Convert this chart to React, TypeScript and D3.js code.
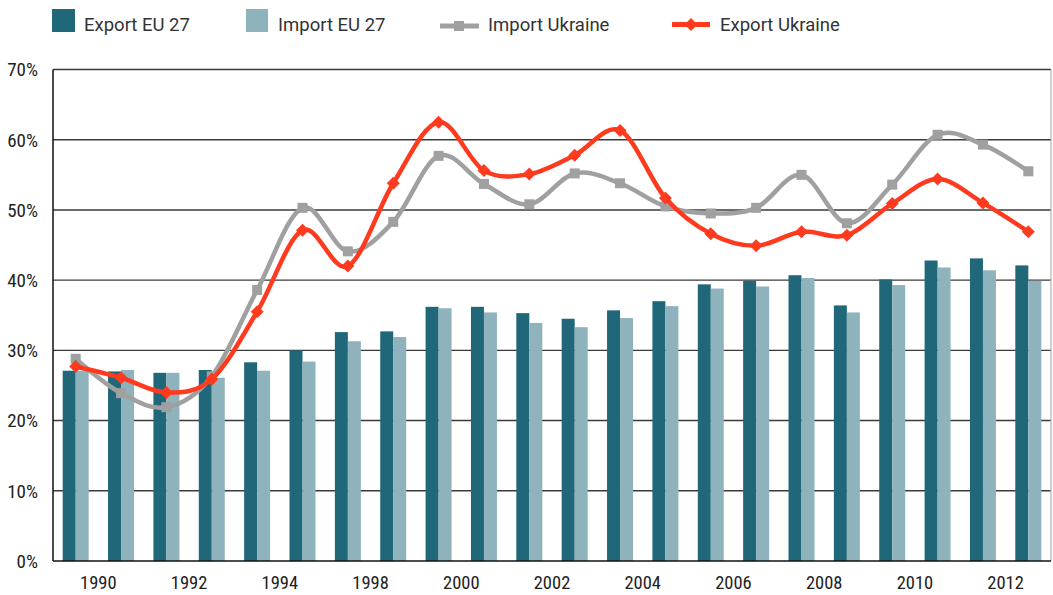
import React from "react";
import * as d3 from "d3";

const categories = d3.range(22);
const xLabels = ["1990", "1992", "1994", "1998", "2000", "2002", "2004", "2006", "2008", "2010", "2012"];
const exportEU = [27.1, 27.0, 26.8, 27.2, 28.3, 30.0, 32.6, 32.7, 36.2, 36.2, 35.3, 34.5, 35.7, 37.0, 39.4, 39.9, 40.7, 36.4, 40.1, 42.8, 43.1, 42.1];
const importEU = [27.1, 27.2, 26.8, 26.1, 27.1, 28.4, 31.3, 31.9, 36.0, 35.4, 33.9, 33.3, 34.6, 36.3, 38.8, 39.1, 40.3, 35.4, 39.3, 41.8, 41.4, 39.9];
const importUA = [28.8, 23.9, 21.9, 26.3, 38.6, 50.3, 44.1, 48.3, 57.7, 53.7, 50.8, 55.2, 53.8, 50.5, 49.5, 50.3, 55.0, 48.1, 53.6, 60.7, 59.3, 55.5];
const exportUA = [27.7, 26.1, 24.0, 25.9, 35.5, 47.1, 42.0, 53.8, 62.5, 55.6, 55.1, 57.8, 61.3, 51.7, 46.6, 44.9, 46.9, 46.4, 50.9, 54.4, 51.0, 46.9];
const yTicks = [0, 10, 20, 30, 40, 50, 60, 70];

const C_DARK = "#1f6779";
const C_LIGHT = "#8fb3bd";
const C_GRAY = "#a0a0a0";
const C_RED = "#ff3a1e";
const NARROW = "'Liberation Sans Narrow', 'Roboto Condensed', 'DejaVu Sans Condensed', sans-serif";
const LEGEND_FONT = "Roboto, 'Liberation Sans', sans-serif";

export default function App() {
  const W = 1053, H = 595;
  const left = 53, right = 1051, top = 69.5, bottom = 561;
  const p = 0.427;
  const x = d3.scaleBand<number>().domain(categories).range([left, right]).paddingInner(p).paddingOuter(p / 2);
  const inner = d3.scaleBand<string>().domain(["e", "i"]).range([0, x.bandwidth()]);
  const y = d3.scaleLinear().domain([0, 70]).range([bottom, top]);
  const cx = (i: number) => (x(i) as number) + x.bandwidth() / 2;

  const line = d3.line<number>().x((_, i) => cx(i)).y((d) => y(d)).curve(d3.curveCardinal.tension(0));

  const diamond = (s: number) => `M0,${-s} L${s},0 L0,${s} L${-s},0 Z`;

  return (
    <svg width={W} height={H} style={{ position: "absolute", left: 0, top: 0, background: "#fff" }}>
      {/* gridlines */}
      {yTicks.filter((t) => t > 0).map((t) => (
        <line key={t} x1={left} x2={right} y1={y(t)} y2={y(t)} stroke="#3a3a3a" strokeWidth={1.4} />
      ))}
      {/* right border */}
      <line x1={right} x2={right} y1={top} y2={bottom} stroke="#b0b0b0" strokeWidth={1.2} />
      {/* bars */}
      {categories.map((c, i) => (
        <g key={c}>
          <rect x={(x(c) as number) + (inner("e") as number)} width={inner.bandwidth()} y={y(exportEU[i])} height={y(0) - y(exportEU[i])} fill={C_DARK} />
          <rect x={(x(c) as number) + (inner("i") as number)} width={inner.bandwidth()} y={y(importEU[i])} height={y(0) - y(importEU[i])} fill={C_LIGHT} />
        </g>
      ))}
      {/* axes */}
      <line x1={left} x2={left} y1={top} y2={bottom} stroke="#111" strokeWidth={1.5} />
      <line x1={left} x2={right} y1={bottom} y2={bottom} stroke="#111" strokeWidth={1.5} />
      {/* lines */}
      <path d={line(importUA) || ""} fill="none" stroke={C_GRAY} strokeWidth={4.5} />
      {importUA.map((v, i) => (
        <rect key={i} x={cx(i) - 5} y={y(v) - 5} width={10} height={10} fill={C_GRAY} />
      ))}
      <path d={line(exportUA) || ""} fill="none" stroke={C_RED} strokeWidth={4.5} />
      {exportUA.map((v, i) => (
        <path key={i} d={diamond(6.5)} transform={`translate(${cx(i)},${y(v)})`} fill={C_RED} />
      ))}
      {/* y labels */}
      {yTicks.map((t) => (
        <text key={t} x={38} y={y(t)} dy="0.36em" textAnchor="end" fontFamily={NARROW} fontSize={19} fill="#222">
          {t + "%"}
        </text>
      ))}
      {/* x labels */}
      {xLabels.map((l, k) => (
        <text key={l} x={(cx(2 * k) + cx(2 * k + 1)) / 2} y={589} textAnchor="middle" fontFamily={NARROW} fontSize={18.5} fill="#222">
          {l}
        </text>
      ))}
      {/* legend */}
      <g fontFamily={LEGEND_FONT} fontSize={18.5} fill="#333">
        <rect x={52} y={9} width={23} height={23} fill={C_DARK} />
        <text x={84} y={31}>Export EU 27</text>
        <rect x={246} y={9} width={22} height={23} fill={C_LIGHT} />
        <text x={278} y={31}>Import EU 27</text>
        <line x1={440} x2={479} y1={26} y2={26} stroke={C_GRAY} strokeWidth={5} />
        <rect x={454} y={21} width={10} height={10} fill={C_GRAY} />
        <text x={488} y={31}>Import Ukraine</text>
        <line x1={672} x2={710} y1={24.5} y2={24.5} stroke={C_RED} strokeWidth={5} />
        <path d={diamond(6.5)} transform="translate(691,24.5)" fill={C_RED} />
        <text x={720} y={31}>Export Ukraine</text>
      </g>
    </svg>
  );
}
